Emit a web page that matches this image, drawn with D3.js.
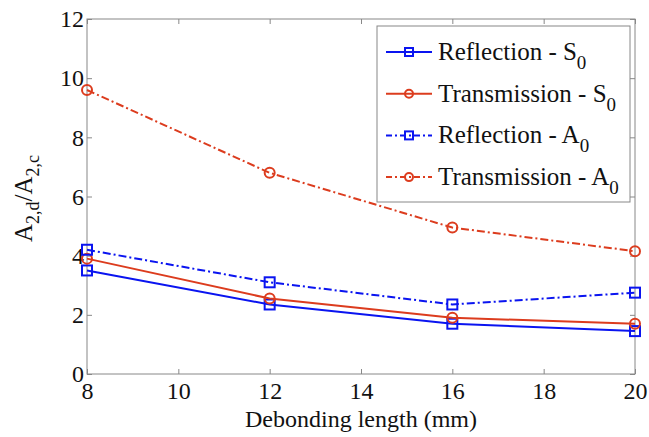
<!DOCTYPE html>
<html>
<head>
<meta charset="utf-8">
<script src="https://cdn.jsdelivr.net/npm/d3@7"></script>
</head>
<body style="margin:0">
<div id="container"></div>
<script>
var width = 649,
    height = 437,
    margin = { left: 87, top: 19, right: 14, bottom: 63 },
    g_width = width - margin.left - margin.right,
    g_height = height - margin.top - margin.bottom;

var fontFam = "'Liberation Serif', cursive";

// data
var lengths = [8, 12, 16, 20];
var reflS0 = [3.5, 2.35, 1.7, 1.45];
var transS0 = [3.9, 2.55, 1.9, 1.7];
var reflA0 = [4.2, 3.1, 2.35, 2.75];
var transA0 = [9.6, 6.8, 4.95, 4.15];
var xTicks = [8, 10, 12, 14, 16, 18, 20];
var yTicks = [0, 2, 4, 6, 8, 10, 12];

var blue = "#0a14f0", red = "#dc3c1e";
var series = [
  { name: "Reflection - S", sub: "0", values: reflS0, color: blue, dash: null, marker: "square" },
  { name: "Transmission - S", sub: "0", values: transS0, color: red, dash: null, marker: "circle" },
  { name: "Reflection - A", sub: "0", values: reflA0, color: blue, dash: "8,3,2,3", marker: "square" },
  { name: "Transmission - A", sub: "0", values: transA0, color: red, dash: "8,3,2,3", marker: "circle" }
];

var svg = d3.select("#container").append("svg")
    .attr("width", width)
    .attr("height", height)
    .attr("font-family", "Liberation Serif");

var g = svg.append("g")
    .attr("transform", "translate(" + margin.left + "," + margin.top + ")");

var scale_x = d3.scaleLinear().domain([8, 20]).range([0, g_width]);
var scale_y = d3.scaleLinear().domain([0, 12]).range([g_height, 0]);

// axes box
g.append("rect")
    .attr("width", g_width).attr("height", g_height)
    .attr("fill", "none").attr("stroke", "#888").attr("stroke-width", 1);

function styleAxis(sel) {
  sel.attr("font-family", "Liberation Serif").attr("font-size", null);
  sel.select(".domain").remove();
  sel.selectAll(".tick line").attr("stroke", "#888");
  sel.selectAll(".tick text").attr("fill", "#111")
      .style("font-family", fontFam).style("font-size", "24px");
}

g.append("g").attr("transform", "translate(0," + g_height + ")")
    .call(d3.axisBottom(scale_x).tickValues(xTicks).tickSize(-5).tickPadding(8))
    .call(styleAxis);
g.append("g")
    .call(d3.axisTop(scale_x).tickValues(xTicks).tickSize(-5).tickFormat(""))
    .call(styleAxis);
g.append("g")
    .call(d3.axisLeft(scale_y).tickValues(yTicks).tickSize(-5).tickPadding(3))
    .call(styleAxis);
g.append("g").attr("transform", "translate(" + g_width + ",0)")
    .call(d3.axisRight(scale_y).tickValues(yTicks).tickSize(-5).tickFormat(""))
    .call(styleAxis);

// lines
var line_generator = d3.line()
    .x(function(d, i) { return scale_x(lengths[i]); })
    .y(function(d) { return scale_y(d); });

function drawMarker(sel, s, x, y, r) {
  if (s.marker === "square") {
    sel.append("rect").attr("x", x - r).attr("y", y - r).attr("width", 2 * r).attr("height", 2 * r)
        .attr("fill", "none").attr("stroke", s.color).attr("stroke-width", 2);
  } else {
    sel.append("circle").attr("cx", x).attr("cy", y).attr("r", r)
        .attr("fill", "none").attr("stroke", s.color).attr("stroke-width", 2);
  }
}

series.forEach(function(s) {
  g.append("path")
      .attr("d", line_generator(s.values))
      .attr("fill", "none")
      .attr("stroke", s.color)
      .attr("stroke-width", 2)
      .attr("stroke-dasharray", s.dash);
  s.values.forEach(function(v, i) {
    drawMarker(g, s, scale_x(lengths[i]), scale_y(v), 5);
  });
});

// axis labels
svg.append("text")
    .attr("x", margin.left + g_width / 2).attr("y", 427)
    .attr("text-anchor", "middle")
    .style("font-family", fontFam).style("font-size", "24px").attr("fill", "#111")
    .text("Debonding length (mm)");

var ylab = svg.append("text")
    .attr("transform", "translate(32," + (margin.top + g_height / 2 + 2) + ") rotate(-90)")
    .attr("text-anchor", "middle")
    .style("font-family", fontFam).style("font-size", "25px").attr("fill", "#111");
ylab.append("tspan").text("A");
ylab.append("tspan").attr("dy", 7).style("font-size", "18px").text("2,d");
ylab.append("tspan").attr("dy", -7).text("/A");
ylab.append("tspan").attr("dy", 7).style("font-size", "18px").text("2,c");

// legend
var lg = svg.append("g").attr("transform", "translate(377,26)");
lg.append("rect").attr("width", 253).attr("height", 176)
    .attr("fill", "#fff").attr("stroke", "#888").attr("stroke-width", 1);

series.forEach(function(s, i) {
  var y = 26 + i * 41.7;
  lg.append("line").attr("x1", 9).attr("x2", 55).attr("y1", y).attr("y2", y)
      .attr("stroke", s.color).attr("stroke-width", 2).attr("stroke-dasharray", s.dash ? "6,3,2,3" : null);
  drawMarker(lg, s, 32, y, 4);
  var t = lg.append("text").attr("x", 61).attr("y", y + 8)
      .style("font-family", fontFam).style("font-size", "25px").attr("fill", "#111");
  t.append("tspan").text(s.name);
  t.append("tspan").attr("dy", 9).style("font-size", "19px").text(s.sub);
});
</script>
</body>
</html>
